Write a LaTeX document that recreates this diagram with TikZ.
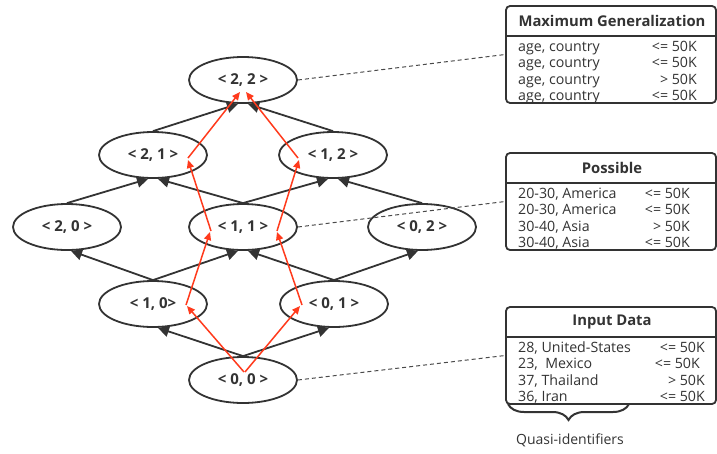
\documentclass[tikz,border=0pt]{standalone}
\usepackage{fontspec}
\setmainfont{Open Sans}
\usetikzlibrary{arrows.meta,calc,decorations.pathreplacing,shapes.geometric}
\definecolor{ink}{HTML}{333333}
\definecolor{redp}{HTML}{FF3A1C}
\definecolor{dashc}{HTML}{4A4A4A}
\begin{document}
\begin{tikzpicture}[x=1pt,y=-1pt,
  lat/.style={ellipse,draw=ink,line width=1.8pt,fill=white,minimum width=108pt,minimum height=46pt,inner sep=0pt,font=\fontsize{15}{17}\selectfont\bfseries,text=ink},
  edge/.style={draw=ink,line width=1.8pt,-{Triangle[length=11pt,width=11pt]}},
  redarrow/.style={draw=redp,line width=1.5pt,-{Triangle[length=8pt,width=7pt]}},
  dashlink/.style={draw=dashc,line width=1pt,dash pattern=on 4pt off 3pt},
  tbox/.style={draw=ink,line width=1.8pt,rounded corners=4pt,minimum width=210pt,minimum height=97pt,inner sep=0pt,fill=white},
  hdr/.style={font=\fontsize{14.8}{17}\selectfont\bfseries,text=ink,inner sep=0pt},
  rowl/.style={font=\fontsize{14.2}{16}\selectfont,text=ink,inner sep=0pt,text height=11pt,text depth=3pt,anchor=west},
  rowr/.style={font=\fontsize{14.2}{16}\selectfont,text=ink,inner sep=0pt,text height=11pt,text depth=3pt,anchor=east},
  note/.style={font=\fontsize{14}{16}\selectfont,text=ink,inner sep=0pt}
]
\useasboundingbox (0,0) rectangle (717,453);

% lattice nodes
\node[lat] (n22) at (243,80) {< 2, 2 >};
\node[lat] (n21) at (153,155) {< 2, 1 >};
\node[lat] (n12) at (333,155) {< 1, 2 >};
\node[lat] (n20) at (67,227) {< 2, 0 >};
\node[lat] (n11) at (243,227) {< 1, 1 >};
\node[lat] (n02) at (422,227) {< 0, 2 >};
\node[lat] (n10) at (153,304) {< 1, 0>};
\node[lat] (n01) at (334,304) {< 0, 1 >};
\node[lat] (n00) at (243,380) {< 0, 0 >};

% black edges
\draw[edge] (n00.north) -- ([xshift=5pt]n10.south);
\draw[edge] (n00.north) -- ([xshift=-5pt]n01.south);
\draw[edge] (n10.north) -- ([xshift=4pt]n20.south);
\draw[edge] (n10.north) -- ([xshift=-5pt]n11.south);
\draw[edge] (n01.north) -- ([xshift=5pt]n11.south);
\draw[edge] (n01.north) -- ([xshift=-4pt]n02.south);
\draw[edge] (n20.north) -- ([xshift=-5pt]n21.south);
\draw[edge] (n11.north) -- ([xshift=5pt]n21.south);
\draw[edge] (n11.north) -- ([xshift=-5pt]n12.south);
\draw[edge] (n02.north) -- ([xshift=5pt]n12.south);
\draw[edge] (n21.north) -- ([xshift=-5pt]n22.south);
\draw[edge] (n12.north) -- ([xshift=5pt]n22.south);

% red paths
\draw[redarrow] ($(n00)+(1,-8)$) -- ($(n10)+(34,2)$);
\draw[redarrow] ($(n10)+(33,1)$) -- ($(n11)+(-33,5)$);
\draw[redarrow] ($(n11)+(-32,4)$) -- ($(n21)+(35,5)$);
\draw[redarrow] ($(n21)+(35,3)$) -- ($(n22)+(-3,12)$);
\draw[redarrow] ($(n00)+(2,-8)$) -- ($(n01)+(-34,2)$);
\draw[redarrow] ($(n01)+(-32,1)$) -- ($(n11)+(34,5)$);
\draw[redarrow] ($(n11)+(34,4)$) -- ($(n12)+(-34,5)$);
\draw[redarrow] ($(n12)+(-35,3)$) -- ($(n22)+(3,12)$);

% tables
\node[tbox] (b1) at (611,54.5) {};
\node[tbox] (b2) at (611,201.5) {};
\node[tbox] (b3) at (611,355.5) {};
\foreach \b in {b1,b2,b3}{
  \draw[ink,line width=1.5pt] ($(\b.north west)+(0,31)$) -- ($(\b.north east)+(0,31)$);
}
\node[hdr] (h1) at ($(b1.north)+(1,16)$) {Maximum Generalization};
\node[hdr] (h2) at ($(b2.north)+(1,16)$) {Possible};
\node[hdr] (h3) at ($(b3.north)+(1,16)$) {Input Data};

\node[rowl] (r11) at (518,47) {age, country};
\node[rowl] (r12) at (518,63.5) {age, country};
\node[rowl] (r13) at (518,80) {age, country};
\node[rowl] (r14) at (518,96.5) {age, country};
\node[rowr] (s11) at (697,47) {<= 50K};
\node[rowr] (s12) at (697,63.5) {<= 50K};
\node[rowr] (s13) at (697,80) {> 50K};
\node[rowr] (s14) at (697,96.5) {<= 50K};

\node[rowl] (r21) at (518,194) {20-30, America};
\node[rowl] (r22) at (518,210.5) {20-30, America};
\node[rowl] (r23) at (518,227) {30-40, Asia};
\node[rowl] (r24) at (518,243.5) {30-40, Asia};
\node[rowr] (s21) at (690,194) {<= 50K};
\node[rowr] (s22) at (690,210.5) {<= 50K};
\node[rowr] (s23) at (690,227) {> 50K};
\node[rowr] (s24) at (690,243.5) {<= 50K};

\node[rowl] (r31) at (518,348) {28, United-States};
\node[rowl] (r32) at (518,364.5) {23,\ \ Mexico};
\node[rowl] (r33) at (518,381) {37, Thailand};
\node[rowl] (r34) at (518,397.5) {36, Iran};
\node[rowr] (s31) at (705,348) {<= 50K};
\node[rowr] (s32) at (700,364.5) {<= 50K};
\node[rowr] (s33) at (705,381) {> 50K};
\node[rowr] (s34) at (705,397.5) {<= 50K};

% dashed links
\draw[dashlink] (n22.east) -- (b1.west);
\draw[dashlink] (n11.east) -- (b2.west);
\draw[dashlink] (n00.east) -- (b3.west);

% brace
\coordinate (bl) at (508,404);
\coordinate (br) at (629,404);
\draw[ink,line width=2pt,decorate,decoration={brace,mirror,amplitude=16pt}] (bl) -- (br);
\node[note] (qi) at (570,440) {Quasi-identifiers};
\end{tikzpicture}
\end{document}
